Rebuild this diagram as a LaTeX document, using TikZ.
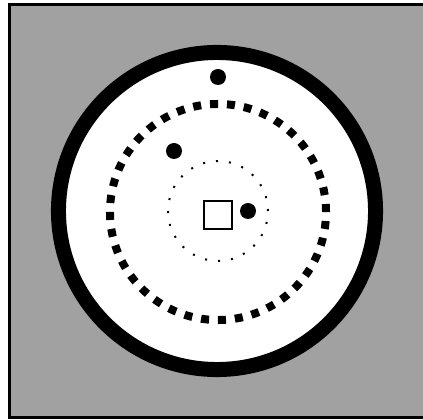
\documentclass[tikz,border=0pt]{standalone}
\definecolor{bg}{gray}{0.63}
\begin{document}
\begin{tikzpicture}[x=0.025cm,y=-0.025cm,
  dot/.style={circle,fill,inner sep=0pt,minimum size=.4cm},
  ring/.style={line width=.375cm},
  track/.style={line width=.2cm,dash pattern=on .2cm off .2241cm},
  orbit/.style={line width=.05cm,dash pattern=on .05cm off .2772cm}]
  \useasboundingbox (0,0) rectangle (423,420);
  \draw[line width=2.1pt,fill=bg] (9.5,4.5) rectangle (440,417.5);
  \coordinate (ctr) at (217,211);
  \fill[white] (ctr) circle (3.9625cm);
  \draw[ring] (ctr) circle (3.9625cm);
  \draw[track] (218,212) circle (2.7cm);
  \draw[orbit] (218,211) circle (1.25cm);
  \node[draw,line width=1.4pt,minimum size=.7cm,inner sep=0pt] (box) at (218,215) {};
  \node[dot] (top) at (218,77) {};
  \node[dot] (mid) at (174,151) {};
  \node[dot] (near) at (248,211) {};
\end{tikzpicture}
\end{document}
